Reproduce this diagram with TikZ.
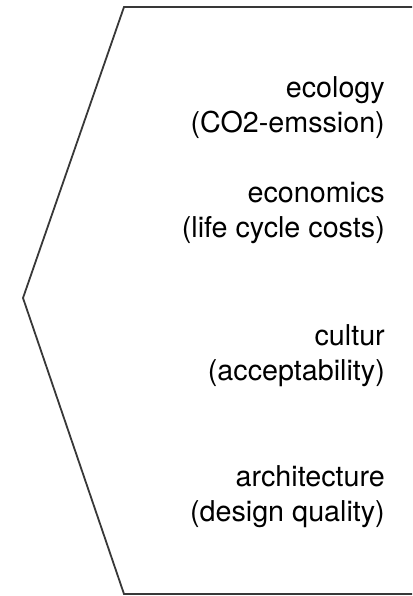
\documentclass[tikz,border=0pt]{standalone}
\usepackage{fontspec}
\setmainfont{TeX Gyre Heros}

\begin{document}
\begin{tikzpicture}[x=1pt, y=1pt,
    label/.style = {anchor=base east, align=right, inner sep=0pt, font=\fontsize{28.7}{35.5}\selectfont},
    outline/.style = {draw=black!78, line width=1.8pt}]
                \useasboundingbox (0,0) rectangle (412,596);

                \draw[outline] (412,589) -- (124,589) -- (23,298) -- (124,2) -- (412,2);

                \node[label] (ecology) at (385,463) {ecology\\(CO2-emssion)};
                \node[label] (economics) at (385,358) {economics\\(life cycle costs)};
                \node[label] (cultur) at (385,215) {cultur\\(acceptability)};
                \node[label] (architecture) at (385,74) {architecture\\(design quality)};
            \end{tikzpicture}
\end{document}
